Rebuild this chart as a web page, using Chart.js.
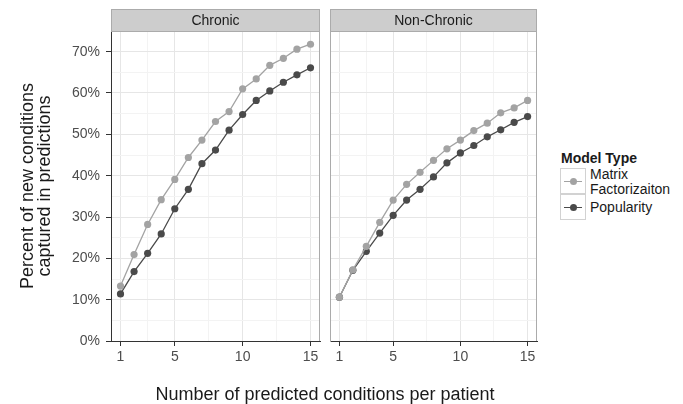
<!DOCTYPE html>
<html>
<head>
<meta charset="utf-8">
<script src="https://cdn.jsdelivr.net/npm/chart.js@4"></script>
<style>
  body { margin: 0; background: #fff; }
  #wrap { position: relative; width: 683px; height: 404px; font-family: 'Liberation Sans', Arial, sans-serif; color: #1a1a1a; }
  canvas { position: absolute; top: 0; }
  #chronic { left: 0; }
  #nonChronic { left: 326px; }
  .xtitle { position: absolute; left: 125px; width: 400px; top: 384px; text-align: center; font-size: 18px; line-height: 20px; }
  .legend-title { position: absolute; left: 561px; top: 150px; font-size: 14px; font-weight: bold; line-height: 16px; }
  .key { position: absolute; left: 560px; width: 26px; height: 26px; box-sizing: border-box; border: 1px solid #d2d2d2; }
  .key .ln { position: absolute; left: 3px; width: 18px; top: 12px; height: 1px; }
  .key .dot { position: absolute; left: 9px; top: 9px; width: 7px; height: 7px; border-radius: 50%; }
  .lbl { position: absolute; left: 590px; font-size: 14px; line-height: 15px; }
</style>
</head>
<body>
<div id="wrap">
  <canvas id="chronic" width="324" height="404"></canvas>
  <canvas id="nonChronic" width="215" height="404"></canvas>
  <div class="xtitle">Number of predicted conditions per patient</div>
  <div class="legend-title">Model Type</div>
  <div class="key" style="top:168px"><div class="ln" style="background:#a3a3a3"></div><div class="dot" style="background:#a3a3a3"></div></div>
  <div class="key" style="top:194px"><div class="ln" style="background:#4a4a4a"></div><div class="dot" style="background:#4a4a4a"></div></div>
  <div class="lbl" style="top:167px">Matrix</div>
  <div class="lbl" style="top:182px">Factorizaiton</div>
  <div class="lbl" style="top:200px">Popularity</div>
</div>
<script>
// number of predicted conditions
const ranks = [1, 2, 3, 4, 5, 6, 7, 8, 9, 10, 11, 12, 13, 14, 15]

// percent of new conditions captured
const chronicMatrix = [13.3, 20.9, 28.2, 34.2, 39.1, 44.4, 48.6, 53.1, 55.5, 61.0, 63.4, 66.7, 68.4, 70.6, 71.8]
const chronicPopularity = [11.4, 16.8, 21.2, 25.9, 32.0, 36.7, 42.9, 46.2, 51.0, 54.8, 58.2, 60.5, 62.6, 64.4, 66.1]
const nonChronicMatrix = [10.6, 17.2, 22.9, 28.7, 34.1, 37.9, 40.8, 43.7, 46.5, 48.6, 50.9, 52.7, 55.2, 56.4, 58.2]
const nonChronicPopularity = [10.6, 17.1, 21.7, 26.1, 30.4, 34.1, 36.7, 39.7, 43.1, 45.5, 47.3, 49.4, 51.1, 52.9, 54.3]

// x breaks (major labelled, minor grid only)
const xMajor = [1, 5, 10, 15]
const xGrid = [1, 3, 5, 7.5, 10, 12.5, 15]

const lightGrey = '#a3a3a3'
const darkGrey = '#4a4a4a'

Chart.defaults.font.family = "'Liberation Sans', Arial, sans-serif"

const panelFrame = {
    id: 'panelFrame',
    afterDraw(chart, args, opts) {
        const { ctx, chartArea: { left, right, top, bottom } } = chart
        ctx.save()
        ctx.fillStyle = '#cdcdcd'
        ctx.fillRect(left, 9, right - left, top - 9)
        ctx.strokeStyle = '#ababab'
        ctx.lineWidth = 1
        ctx.strokeRect(left + 0.5, 9.5, right - left - 1, top - 9)
        ctx.beginPath()
        ctx.moveTo(right - 0.5, top)
        ctx.lineTo(right - 0.5, bottom)
        ctx.stroke()
        ctx.fillStyle = '#1a1a1a'
        ctx.font = "14px 'Liberation Sans', Arial, sans-serif"
        ctx.textAlign = 'center'
        ctx.textBaseline = 'middle'
        ctx.fillText(opts.text, (left + right) / 2, 21)
        ctx.restore()
    }
}

function points(values) {
    return ranks.map((r, i) => ({ x: r, y: values[i] }))
}

function makePanel(id, label, matrix, popularity, showY) {
    const ctx = document.getElementById(id).getContext('2d')
    return new Chart(ctx, {
        type: 'line',
        data: {
            datasets: [
                {
                    label: 'Matrix Factorizaiton',
                    data: points(matrix),
                    borderColor: lightGrey,
                    backgroundColor: lightGrey,
                    borderWidth: 1.3,
                    pointRadius: 3.6,
                    pointBorderWidth: 0
                },
                {
                    label: 'Popularity',
                    data: points(popularity),
                    borderColor: darkGrey,
                    backgroundColor: darkGrey,
                    borderWidth: 1.3,
                    pointRadius: 3.6,
                    pointBorderWidth: 0
                }
            ]
        },
        options: {
            responsive: false,
            animation: false,
            devicePixelRatio: 1,
            layout: { padding: { top: 31, right: showY ? 2 : 1, left: showY ? 0 : 1, bottom: 0 } },
            plugins: {
                legend: { display: false },
                tooltip: { enabled: false },
                panelFrame: { text: label }
            },
            scales: {
                x: {
                    type: 'linear',
                    min: 0.3,
                    max: 15.7,
                    afterBuildTicks: s => { s.ticks = xGrid.map(v => ({ value: v })) },
                    afterFit: s => { s.height = 63 },
                    ticks: {
                        autoSkip: false,
                        maxRotation: 0,
                        color: '#4d4d4d',
                        font: { size: 14 },
                        padding: 3,
                        callback: v => xMajor.includes(v) ? String(v) : ''
                    },
                    grid: {
                        color: c => xMajor.includes(c.tick.value) ? '#e6e6e6' : '#f3f3f3',
                        tickColor: c => xMajor.includes(c.tick.value) ? '#333333' : 'rgba(0,0,0,0)',
                        tickLength: 5
                    },
                    border: { color: '#333333', width: 1 }
                },
                y: {
                    min: 0,
                    max: 75,
                    afterFit: s => { s.width = showY ? 111 : 0 },
                    ticks: {
                        display: showY,
                        stepSize: 5,
                        autoSkip: false,
                        color: '#4d4d4d',
                        font: { size: 14 },
                        padding: 6,
                        callback: v => v % 10 === 0 ? v + '%' : ''
                    },
                    grid: {
                        color: c => c.tick.value % 10 === 0 ? '#e6e6e6' : '#f3f3f3',
                        tickColor: c => c.tick.value % 10 === 0 ? '#333333' : 'rgba(0,0,0,0)',
                        tickLength: 5,
                        drawTicks: showY
                    },
                    border: { color: showY ? '#333333' : '#ababab', width: 1 },
                    title: {
                        display: showY,
                        text: ['Percent of new conditions', 'captured in predictions'],
                        color: '#1a1a1a',
                        font: { size: 18, lineHeight: 0.92 },
                        padding: { top: 20, bottom: 0 }
                    }
                }
            }
        },
        plugins: [panelFrame]
    })
}

makePanel('chronic', 'Chronic', chronicMatrix, chronicPopularity, true)
makePanel('nonChronic', 'Non-Chronic', nonChronicMatrix, nonChronicPopularity, false)
</script>
</body>
</html>
